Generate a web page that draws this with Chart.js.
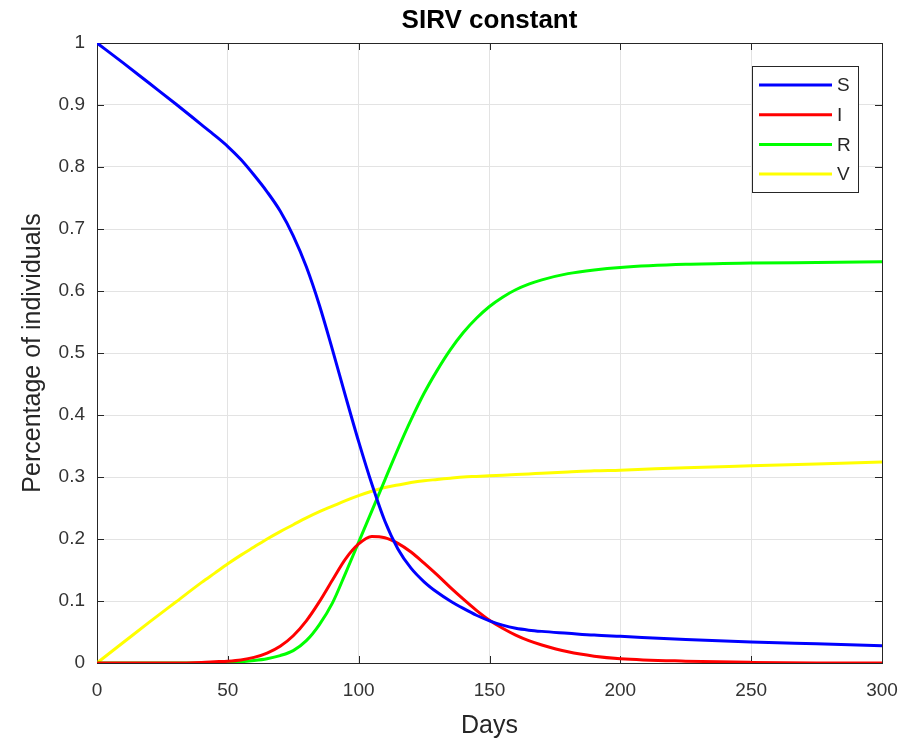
<!DOCTYPE html>
<html>
<head>
<meta charset="utf-8">
<title>SIRV constant</title>
<script src="https://cdn.jsdelivr.net/npm/chart.js@4.4.1/dist/chart.umd.min.js"></script>
<style>
    body { margin: 0; background: #ffffff; }
    #sirvChart { display: block; }
</style>
</head>
<body>
<canvas id="sirvChart" width="905" height="741"></canvas>
<script>
// Chart data - days aur har compartment ki values
const days = [0, 10, 20, 30, 40, 45, 50, 55, 60, 65, 70, 75, 80, 85, 90, 95, 100, 105, 110, 115,
    120, 125, 130, 135, 140, 145, 150, 155, 160, 165, 170, 180, 190, 200, 225, 250, 275, 300];

const susceptible = [1.0, 0.968, 0.935, 0.902, 0.868, 0.851, 0.833, 0.812, 0.787, 0.76, 0.729, 0.689,
    0.639, 0.577, 0.505, 0.43, 0.357, 0.289, 0.229, 0.184, 0.153, 0.131, 0.114, 0.1, 0.088, 0.077,
    0.068, 0.061, 0.056, 0.053, 0.051, 0.048, 0.045, 0.043, 0.038, 0.034, 0.031, 0.028];

const infected = [0, 0, 0, 0, 0.001, 0.002, 0.003, 0.005, 0.009, 0.016, 0.027, 0.044, 0.068, 0.099,
    0.134, 0.168, 0.192, 0.204, 0.202, 0.193, 0.179, 0.161, 0.142, 0.122, 0.103, 0.085, 0.069,
    0.056, 0.045, 0.036, 0.029, 0.018, 0.011, 0.007, 0.003, 0.001, 0, 0];

const recovered = [0, 0, 0, 0, 0, 0, 0.001, 0.002, 0.004, 0.007, 0.012, 0.02, 0.036, 0.062, 0.097,
    0.145, 0.195, 0.245, 0.295, 0.345, 0.392, 0.435, 0.472, 0.505, 0.533, 0.556, 0.575, 0.59, 0.602,
    0.611, 0.618, 0.628, 0.634, 0.638, 0.643, 0.645, 0.646, 0.647];

const vaccinated = [0, 0.033, 0.066, 0.098, 0.13, 0.145, 0.16, 0.174, 0.187, 0.2, 0.212, 0.223, 0.234,
    0.244, 0.253, 0.262, 0.27, 0.277, 0.283, 0.287, 0.291, 0.294, 0.296, 0.298, 0.3, 0.301, 0.302,
    0.303, 0.304, 0.305, 0.306, 0.308, 0.31, 0.311, 0.315, 0.318, 0.321, 0.324];

const seriesNames = ['S', 'I', 'R', 'V'];
const seriesColors = ['#0000ff', '#ff0000', '#00ff00', '#ffff00'];
const xTicks = [0, 50, 100, 150, 200, 250, 300];
const yTicks = [0, 0.1, 0.2, 0.3, 0.4, 0.5, 0.6, 0.7, 0.8, 0.9, 1];

const FONT = '"Liberation Sans", Arial, sans-serif';
const AXIS_COLOR = '#262626';

// {x, y} points banana
function toPoints(values) {
    return days.map((d, i) => ({ x: d, y: values[i] }));
}

// Box aur andar ki taraf tick marks
const boxPlugin = {
    id: 'boxPlugin',
    beforeDatasetsDraw(chart) {
        const { ctx, chartArea: a, scales } = chart;
        ctx.save();
        ctx.strokeStyle = AXIS_COLOR;
        ctx.lineWidth = 1;
        ctx.beginPath();
        xTicks.forEach(t => {
            const px = Math.round(scales.x.getPixelForValue(t)) + 0.5;
            ctx.moveTo(px, a.bottom); ctx.lineTo(px, a.bottom - 7);
            ctx.moveTo(px, a.top); ctx.lineTo(px, a.top + 7);
        });
        yTicks.forEach(t => {
            const py = Math.round(scales.y.getPixelForValue(t)) + 0.5;
            ctx.moveTo(a.left, py); ctx.lineTo(a.left + 7, py);
            ctx.moveTo(a.right, py); ctx.lineTo(a.right - 7, py);
        });
        ctx.stroke();
        ctx.strokeRect(Math.round(a.left) + 0.5, Math.round(a.top) + 0.5,
            Math.round(a.right - a.left), Math.round(a.bottom - a.top));
        ctx.restore();
    }
};

// Title aur legend box (plot ke andar)
const overlayPlugin = {
    id: 'overlayPlugin',
    afterDatasetsDraw(chart) {
        const { ctx, chartArea: a } = chart;
        ctx.save();
        ctx.fillStyle = '#000000';
        ctx.font = 'bold 26px ' + FONT;
        ctx.textAlign = 'center';
        ctx.textBaseline = 'middle';
        ctx.fillText('SIRV constant', (a.left + a.right) / 2, 21);

        const bx = 752.5, by = 66.5, bw = 106, bh = 126;
        ctx.fillStyle = '#ffffff';
        ctx.fillRect(bx, by, bw, bh);
        ctx.strokeStyle = AXIS_COLOR;
        ctx.lineWidth = 1;
        ctx.strokeRect(bx, by, bw, bh);

        ctx.font = '19px ' + FONT;
        ctx.textAlign = 'left';
        seriesNames.forEach((name, i) => {
            const y = 85 + i * 29.7;
            ctx.strokeStyle = seriesColors[i];
            ctx.lineWidth = 3;
            ctx.beginPath();
            ctx.moveTo(759, y);
            ctx.lineTo(832, y);
            ctx.stroke();
            ctx.fillStyle = AXIS_COLOR;
            ctx.fillText(name, 837, y + 1);
        });
        ctx.restore();
    }
};

function initializeChart() {
    const ctx = document.getElementById('sirvChart').getContext('2d');
    const allSeries = [susceptible, infected, recovered, vaccinated];

    new Chart(ctx, {
        type: 'line',
        data: {
            datasets: allSeries.map((values, i) => ({
                label: seriesNames[i],
                data: toPoints(values),
                borderColor: seriesColors[i],
                borderWidth: 3,
                pointRadius: 0,
                cubicInterpolationMode: 'monotone',
                fill: false
            }))
        },
        options: {
            responsive: false,
            animation: false,
            layout: { padding: { left: 0, right: 23, top: 43, bottom: 0 } },
            plugins: {
                legend: { display: false },
                title: { display: false },
                tooltip: { enabled: false }
            },
            scales: {
                x: {
                    type: 'linear',
                    min: 0,
                    max: 300,
                    afterBuildTicks: scale => { scale.ticks = xTicks.map(v => ({ value: v })); },
                    afterFit: scale => {
                        scale.height = 78;
                        // last label ki wajah se extra padding na lage
                        scale.paddingLeft = 0;
                        scale.paddingRight = 0;
                    },
                    ticks: {
                        font: { size: 19, family: FONT },
                        color: '#333333',
                        padding: 16,
                        maxRotation: 0
                    },
                    grid: { color: '#e3e3e3', drawTicks: false },
                    border: { display: false },
                    title: {
                        display: true,
                        text: 'Days',
                        font: { size: 25, family: FONT },
                        color: AXIS_COLOR,
                        padding: { top: 0, bottom: 0 }
                    }
                },
                y: {
                    min: 0,
                    max: 1,
                    afterBuildTicks: scale => { scale.ticks = yTicks.map(v => ({ value: v })); },
                    afterFit: scale => {
                        scale.width = 97;
                        scale.paddingTop = 0;
                        scale.paddingBottom = 0;
                    },
                    ticks: {
                        font: { size: 19, family: FONT },
                        color: '#333333',
                        padding: 12,
                        callback: v => String(Number(v.toFixed(1)))
                    },
                    grid: { color: '#e3e3e3', drawTicks: false },
                    border: { display: false },
                    title: {
                        display: true,
                        text: 'Percentage of individuals',
                        font: { size: 25, family: FONT },
                        color: AXIS_COLOR,
                        padding: { top: 18, bottom: 0 }
                    }
                }
            }
        },
        plugins: [boxPlugin, overlayPlugin]
    });
}

document.addEventListener('DOMContentLoaded', initializeChart);
</script>
</body>
</html>
